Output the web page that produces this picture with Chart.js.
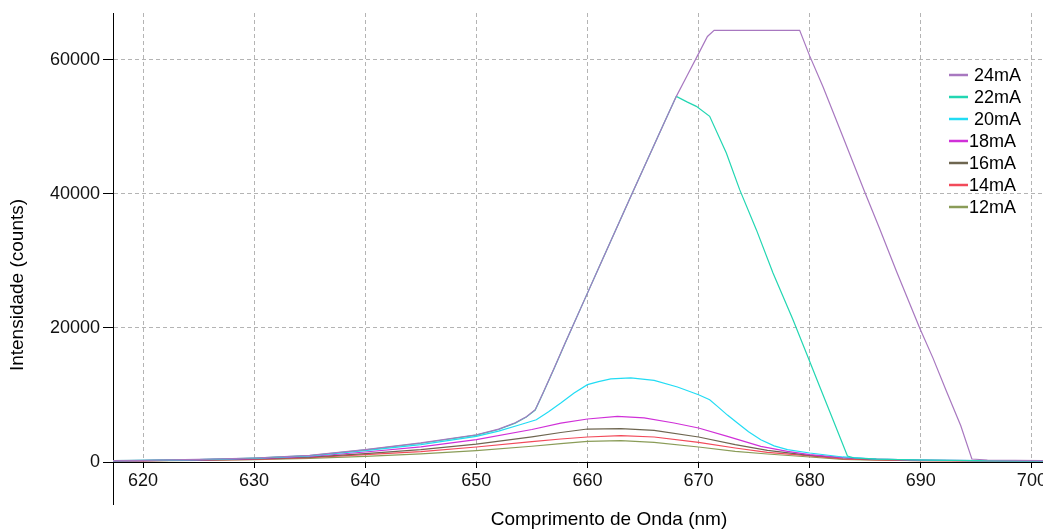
<!DOCTYPE html>
<html>
<head>
<meta charset="utf-8">
<title>Espectro de emissão</title>
<script src="https://cdn.jsdelivr.net/npm/chart.js@4/dist/chart.umd.min.js"></script>
<style>
    html, body { margin: 0; padding: 0; background: #ffffff; }
    canvas { display: block; }
</style>
</head>
<body>
<canvas id="spectrumChart" width="1043" height="531"></canvas>
<script>
// Axis ticks
const xTicks = [620, 630, 640, 650, 660, 670, 680, 690, 700];
const yTicks = [0, 20000, 40000, 60000];

// Series names (legend order)
const seriesNames = [' 24mA', ' 22mA', ' 20mA', '18mA', '16mA', '14mA', '12mA'];

// 24mA (saturates at the top)
const wl24 = [617, 620, 625, 630, 635, 640, 645, 650, 652, 653.5, 654.5, 655.3, 656, 657, 658, 658.6, 660, 661, 662, 663, 664, 665, 666, 667, 668, 669, 670, 670.8, 671.4, 679.1, 680, 681.2, 683, 684.9, 686.3, 687.8, 689.9, 691.1, 692.3, 693.6, 694.6, 696, 701];
const int24 = [200, 250, 380, 600, 1000, 1840, 2850, 4070, 4900, 5850, 6750, 7800, 10300, 14000, 17800, 20000, 25200, 28900, 32600, 36300, 40000, 43650, 47300, 50950, 54560, 57750, 60940, 63500, 64420, 64420, 60600, 56000, 48500, 40500, 34800, 28500, 20000, 15500, 10600, 5400, 450, 300, 200];

// 22mA
const wl22 = [617, 620, 625, 630, 635, 640, 645, 650, 652, 653.5, 654.5, 655.3, 656, 657, 658, 658.6, 660, 661, 662, 663, 664, 665, 666, 667, 668, 669, 669.8, 671, 672.5, 673.7, 675.2, 676.7, 678.5, 679.7, 680.9, 682.1, 683.4, 684, 686, 690, 695, 701];
const int22 = [200, 240, 370, 580, 970, 1800, 2800, 4000, 4850, 5800, 6700, 7750, 10250, 13950, 17750, 20000, 25200, 28900, 32600, 36300, 40000, 43650, 47300, 50950, 54560, 53700, 53070, 51580, 46120, 40640, 34670, 28200, 21240, 16270, 11280, 6310, 900, 600, 420, 300, 220, 180];

// 20mA
const wl20 = [617, 620, 625, 630, 635, 640, 645, 650, 652, 654, 655.4, 656.5, 657.6, 658.8, 660, 661, 662.1, 663.9, 666, 668.1, 670, 671, 671.7, 672.6, 673.5, 674.5, 675.6, 676.8, 678, 680, 683, 686, 690, 695, 701];
const int20 = [180, 230, 350, 560, 920, 1700, 2600, 3820, 4600, 5600, 6300, 7500, 8800, 10300, 11540, 12000, 12390, 12540, 12180, 11190, 10040, 9300, 8300, 7000, 5820, 4500, 3330, 2400, 1840, 1340, 750, 450, 300, 220, 180];

// 18mA
const wl18 = [617, 620, 625, 630, 635, 640, 645, 650, 655, 657.6, 660, 662.7, 665.1, 667.8, 670, 672.6, 675.6, 678, 680, 683, 686, 690, 695, 701];
const int18 = [170, 210, 320, 500, 820, 1490, 2250, 3330, 4850, 5800, 6420, 6810, 6570, 5820, 5070, 3820, 2330, 1580, 1100, 650, 420, 280, 200, 170];

// 16mA, 14mA, 12mA share the same sampling
const wlLow = [617, 620, 625, 630, 635, 640, 645, 650, 655, 657.6, 660, 663, 666, 670, 673.3, 676.2, 680, 683, 686, 690, 695, 701];
const int16 = [160, 200, 290, 450, 720, 1240, 1850, 2680, 3750, 4400, 4920, 4970, 4720, 3730, 2580, 1730, 1000, 600, 400, 260, 190, 160];
const int14 = [150, 190, 270, 400, 640, 1090, 1550, 2240, 3050, 3430, 3730, 3930, 3730, 2930, 2090, 1430, 900, 450, 320, 220, 170, 150];
const int12 = [140, 170, 240, 350, 530, 840, 1200, 1690, 2350, 2750, 3080, 3180, 2930, 2240, 1580, 1190, 750, 400, 280, 200, 160, 140];

const seriesColors = ['#a878c0', '#22d6b2', '#22dcf4', '#d030d8', '#6e6650', '#f24a5a', '#8a9c58'];

const FONT = "'Liberation Sans', Arial, sans-serif";

function toPoints(xs, ys) {
    return xs.map((x, i) => ({ x: x, y: ys[i] }));
}

const seriesData = [
    toPoints(wl24, int24),
    toPoints(wl22, int22),
    toPoints(wl20, int20),
    toPoints(wl18, int18),
    toPoints(wlLow, int16),
    toPoints(wlLow, int14),
    toPoints(wlLow, int12)
];

/**
 * Axis titles, legend and the y axis running on below the x axis
 */
const decorations = {
    id: 'decorations',
    afterDraw(chart) {
        const { ctx, chartArea } = chart;
        ctx.save();

        // y axis line continues below zero
        ctx.strokeStyle = '#000000';
        ctx.lineWidth = 1;
        ctx.beginPath();
        ctx.moveTo(chartArea.left + 0.5, chartArea.bottom);
        ctx.lineTo(chartArea.left + 0.5, 505);
        ctx.stroke();

        // axis titles
        ctx.fillStyle = '#000000';
        ctx.font = '19px ' + FONT;
        ctx.textAlign = 'center';
        ctx.textBaseline = 'middle';
        ctx.fillText('Comprimento de Onda (nm)', 609, 520);

        ctx.save();
        ctx.translate(18, 285);
        ctx.rotate(-Math.PI / 2);
        ctx.fillText('Intensidade (counts)', 0, 0);
        ctx.restore();

        // legend
        ctx.font = '18px ' + FONT;
        ctx.textAlign = 'left';
        chart.data.datasets.forEach((ds, i) => {
            const y = 75 + i * 22;
            ctx.strokeStyle = ds.borderColor;
            ctx.lineWidth = 2.5;
            ctx.beginPath();
            ctx.moveTo(949, y);
            ctx.lineTo(968, y);
            ctx.stroke();
            ctx.fillStyle = '#000000';
            ctx.fillText(ds.label, 969, y + 1);
        });

        ctx.restore();
    }
};

new Chart(document.getElementById('spectrumChart'), {
    type: 'line',
    data: {
        datasets: seriesData.map((pts, i) => ({
            label: seriesNames[i],
            data: pts,
            borderColor: seriesColors[i],
            backgroundColor: seriesColors[i],
            borderWidth: 1.2,
            pointRadius: 0,
            tension: 0,
            fill: false
        }))
    },
    options: {
        responsive: false,
        animation: false,
        layout: { padding: { top: 13, left: 0, right: 0, bottom: 0 } },
        plugins: {
            legend: { display: false },
            tooltip: { enabled: false }
        },
        scales: {
            x: {
                type: 'linear',
                min: 617.3,
                max: 701,
                afterBuildTicks: (scale) => { scale.ticks = xTicks.map(v => ({ value: v })); },
                afterFit: (scale) => {
                    scale.height = 69;
                    scale.paddingLeft = 0;
                    scale.paddingRight = 0;
                },
                ticks: {
                    color: '#111111',
                    font: { family: FONT, size: 18 },
                    padding: 2,
                    maxRotation: 0,
                    autoSkip: false,
                    callback: (v) => String(v)
                },
                grid: {
                    color: '#b4b4b4',
                    lineWidth: 1,
                    tickLength: 6,
                    tickColor: '#000000'
                },
                border: { display: true, color: '#000000', width: 1, dash: [4, 3] }
            },
            y: {
                min: 0,
                max: 67000,
                afterBuildTicks: (scale) => { scale.ticks = yTicks.map(v => ({ value: v })); },
                afterFit: (scale) => {
                    scale.width = 113;
                    scale.paddingTop = 0;
                    scale.paddingBottom = 0;
                },
                ticks: {
                    color: '#111111',
                    font: { family: FONT, size: 18 },
                    padding: 3,
                    callback: (v) => String(v)
                },
                grid: {
                    color: '#b4b4b4',
                    lineWidth: 1,
                    tickLength: 10,
                    tickColor: '#000000'
                },
                border: { display: true, color: '#000000', width: 1, dash: [4, 3] }
            }
        }
    },
    plugins: [decorations]
});
</script>
</body>
</html>
